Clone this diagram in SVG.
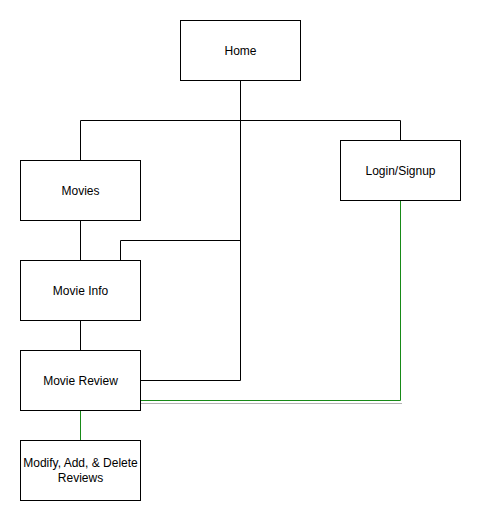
<svg xmlns="http://www.w3.org/2000/svg" width="481" height="521" viewBox="0 0 481 521">
<style>
.box{fill:#fff;stroke:#000;stroke-width:1}
.lbl{font-family:"Liberation Sans",Arial,sans-serif;font-size:12px;fill:#000;text-anchor:middle}
.c{fill:none;stroke:#000;stroke-width:1}
.g{fill:none;stroke:#178A17;stroke-width:1}
.s{fill:none;stroke:#b3b3b3;stroke-width:1}
</style>
<rect width="481" height="521" fill="#fff"/>
<g id="connectors">
<path class="c" d="M240.5 80V120.5H80.5V160M240.5 120.5H400.5V140"/>
<path class="c" d="M240.5 120V380.5H140"/>
<path class="c" d="M240.5 240.5H120.5V260"/>
<path class="c" d="M80.5 220V260M80.5 320V350"/>
<path class="s" d="M140 403.5H402"/>
<path class="g" d="M400.5 200V400.5H140"/>
<path class="g" d="M80.5 410V440"/>
</g>
<g id="home"><rect class="box" x="180.5" y="20.5" width="120" height="60"/><text class="lbl" x="240.5" y="55">Home</text></g>
<g id="movies"><rect class="box" x="20.5" y="160.5" width="120" height="60"/><text class="lbl" x="80.5" y="195">Movies</text></g>
<g id="login"><rect class="box" x="340.5" y="140.5" width="120" height="60"/><text class="lbl" x="400.5" y="175">Login/Signup</text></g>
<g id="movieinfo"><rect class="box" x="20.5" y="260.5" width="120" height="60"/><text class="lbl" x="80.5" y="295">Movie Info</text></g>
<g id="moviereview"><rect class="box" x="20.5" y="350.5" width="120" height="60"/><text class="lbl" x="80.5" y="385">Movie Review</text></g>
<g id="modify"><rect class="box" x="20.5" y="440.5" width="120" height="60"/><text class="lbl" x="80.5" y="467">Modify, Add, &amp; Delete</text><text class="lbl" x="80.5" y="482">Reviews</text></g>
</svg>
